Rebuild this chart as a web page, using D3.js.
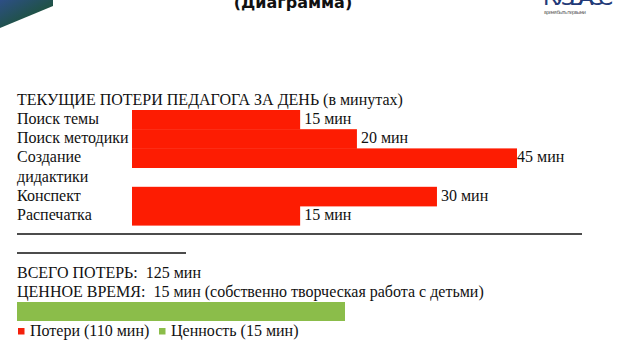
<!DOCTYPE html>
<html><head><meta charset="utf-8">
<script src="https://cdn.jsdelivr.net/npm/d3@7/dist/d3.min.js"></script>
<style>
html,body{margin:0;padding:0;background:#fff;}
svg{display:block;}
text{white-space:pre;}
</style></head>
<body>
<script>
// ---- data ----
const title = "ТЕКУЩИЕ ПОТЕРИ ПЕДАГОГА ЗА ДЕНЬ (в минутах)";
const categories = ["Поиск темы", "Поиск методики", "Создание\nдидактики", "Конспект", "Распечатка"];
const minutes = [15, 20, 45, 30, 15];
const valueLabels = ["15 мин", "20 мин", "45 мин", "30 мин", "15 мин"];
const summaryLines = ["ВСЕГО ПОТЕРЬ:  125 мин", "ЦЕННОЕ ВРЕМЯ:  15 мин (собственно творческая работа с детьми)"];
const valueMinutes = [15];
const legendLabels = ["Потери (110 мин)", "Ценность (15 мин)"];
const legendColors = ["#f4200b", "#8bbd4a"];

const W = 640, H = 360;
const svg = d3.select("body").append("svg").attr("width", W).attr("height", H);
const serif = "'Liberation Serif', 'Times New Roman', serif";

// ---- slide decoration ----
const defs = svg.append("defs");
const g1 = defs.append("linearGradient").attr("id", "cornerGrad")
  .attr("x1", "0").attr("y1", "0").attr("x2", "1").attr("y2", "1");
g1.append("stop").attr("offset", "0").attr("stop-color", "#2d4f86");
g1.append("stop").attr("offset", "0.6").attr("stop-color", "#1f5244");
g1.append("stop").attr("offset", "1").attr("stop-color", "#1c4a3c");
svg.append("path").attr("d", "M0,0 L53,0 L53,6 L0,28 Z").attr("fill", "url(#cornerGrad)");

svg.append("text").attr("x", 293).attr("y", 8).attr("text-anchor", "middle")
  .attr("font-family", "'DejaVu Sans', sans-serif").attr("font-weight", "bold")
  .attr("font-size", 16).attr("fill", "#111").text("(Диаграмма)");

svg.append("text").attr("x", 543).attr("y", 5)
  .attr("font-family", "'DejaVu Sans', sans-serif").attr("font-size", 22)
  .attr("fill", "#233a78").attr("textLength", 70).text("КУЗБАСС");
svg.append("text").attr("x", 544).attr("y", 14)
  .attr("font-family", "'DejaVu Sans', sans-serif").attr("font-size", 5)
  .attr("fill", "#555").attr("textLength", 42).text("время быть первыми");

// ---- main chart ----
const fs = 16;
svg.append("text").attr("x", 17).attr("y", 105)
  .attr("font-family", serif).attr("font-size", fs).attr("fill", "#111").text(title);

// line index of each category (multi-line labels take several lines)
const lineStart = [];
let acc = 0;
categories.forEach(c => { lineStart.push(acc); acc += c.split("\n").length; });
const yLine = d3.scaleLinear().domain([0, acc - 1]).range([124, 220]);

const x = d3.scaleLog().domain([6.4, 45]).range([132, 517]);

const rows = svg.append("g");
categories.forEach((c, i) => {
  c.split("\n").forEach((ln, k) => {
    rows.append("text").attr("x", 17).attr("y", yLine(lineStart[i] + k))
      .attr("font-family", serif).attr("font-size", fs).attr("fill", "#111").text(ln);
  });
});

const barH = 19.3;
svg.append("g").selectAll("rect").data(minutes).join("rect")
  .attr("x", x.range()[0])
  .attr("y", (d, i) => yLine(lineStart[i]) - 14)
  .attr("width", d => x(d) - x.range()[0])
  .attr("height", barH + 0.3)
  .attr("fill", "#fd1c02");

svg.append("g").selectAll("text").data(minutes).join("text")
  .attr("x", d => x(d) + (d === 45 ? 0 : 4))
  .attr("y", (d, i) => yLine(lineStart[i]))
  .attr("font-family", serif).attr("font-size", fs).attr("fill", "#111")
  .text((d, i) => valueLabels[i]);

// separators
svg.append("line").attr("x1", 17).attr("x2", 582).attr("y1", 234).attr("y2", 234)
  .attr("stroke", "#111").attr("stroke-width", 1.3);
svg.append("line").attr("x1", 17).attr("x2", 186).attr("y1", 253).attr("y2", 253)
  .attr("stroke", "#111").attr("stroke-width", 1.3);

// summary
summaryLines.forEach((t, i) => {
  svg.append("text").attr("x", 17).attr("y", 278 + i * 19)
    .attr("font-family", serif).attr("font-size", fs).attr("fill", "#111").text(t);
});

const xv = d3.scaleLinear().domain([0, 15]).range([17, 345]);
svg.append("g").selectAll("rect").data(valueMinutes).join("rect")
  .attr("x", xv(0)).attr("y", 302).attr("width", d => xv(d) - xv(0)).attr("height", 19)
  .attr("fill", "#8bbd4a");

// legend
const legX = [18, 159];
const leg = svg.append("g");
legendLabels.forEach((t, i) => {
  leg.append("rect").attr("x", legX[i]).attr("y", 328).attr("width", 6.5).attr("height", 6.5)
    .attr("fill", legendColors[i]);
  leg.append("text").attr("x", legX[i] + 12).attr("y", 336)
    .attr("font-family", serif).attr("font-size", fs).attr("fill", "#111").text(t);
});
</script>
</body></html>
